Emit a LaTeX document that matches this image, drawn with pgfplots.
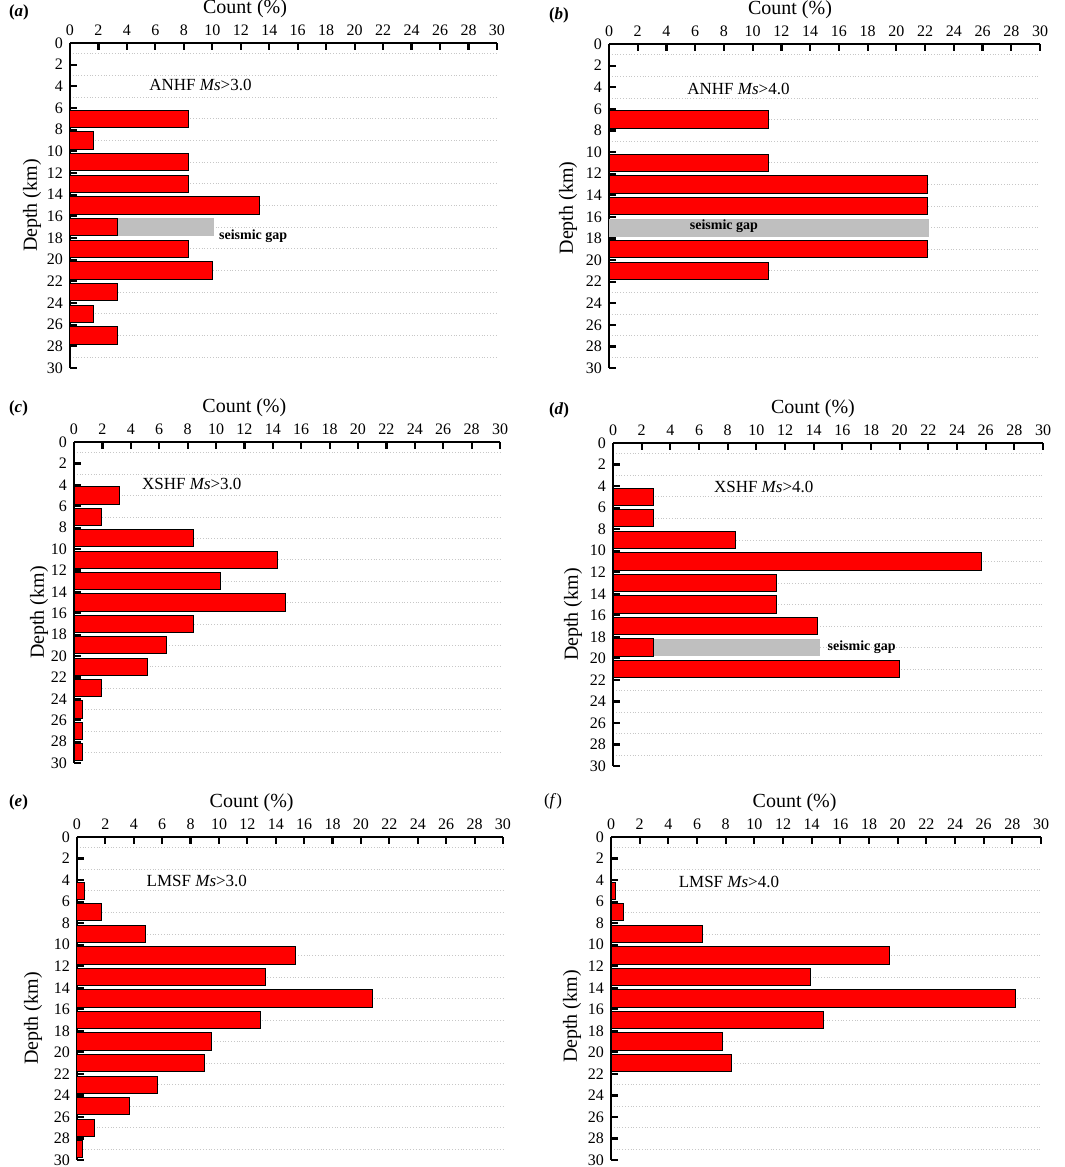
\documentclass[border=0pt]{standalone}
\usepackage{fontspec}
\setmainfont{Liberation Serif}
\usepackage{pgfplots}
\pgfplotsset{compat=1.18}
\pgfplotsset{
 panel/.style={
  scale only axis,
  xmin=0,xmax=30,ymin=0,ymax=30,
  y dir=reverse,
  axis x line=top, axis y line=left,
  axis line style={-, line width=1.2pt},
  xtick={0,2,...,30}, ytick={0,2,...,30},
  minor ytick={1,3,...,29},
  yminorgrids=true,
  minor grid style={densely dotted, black!22, line width=0.4pt},
  tick align=inside,
  major tick length=3.5pt,
  minor tick length=0pt,
  every tick/.style={black, line width=1.1pt},
  tick label style={font=\fontsize{8}{9}\selectfont},
  /pgf/number format/assume math mode=true,
  xlabel={Count (\%)},
  ylabel={Depth (km)},
  label style={font=\fontsize{8.5}{10}\selectfont},
  clip=false,
 },
 xlab/.style={every axis x label/.style={at={(axis description cs:#1,1)}, anchor=center, yshift=17pt}},
 ylab/.style 2 args={every axis y label/.style={at={(axis description cs:0,0.5)}, xshift=-#1, yshift=#2, rotate=90, anchor=center}},
 redbar/.style={xbar, bar width=1.6, bar shift=0pt, fill=red, draw=black, line width=0.5pt},
 gapbar/.style={xbar, bar width=1.65, bar shift=0pt, fill=black!25, draw=none},
}
\newcommand{\ann}[3]{\node[anchor=west, inner sep=0pt, font=\fontsize{8.5}{10}\selectfont] at (axis cs:#1,#2) {#3};}
\newcommand{\gaplabel}[3]{\node[anchor=#3, inner sep=0pt, font=\fontsize{7}{8}\selectfont\bfseries] at (axis cs:#1,#2) {seismic gap};}
\begin{document}
\begin{tikzpicture}
\useasboundingbox (0,0) rectangle (532.5pt,-583.5pt);
% (a)
\begin{axis}[panel, at={(35pt,-21.5pt)}, anchor=north west, width=213.5pt, height=162.5pt, xlab=0.41, ylab={19pt}{0pt}]
\addplot[gapbar] coordinates {(10.15,17)};
\addplot[redbar] coordinates {(8.32,7) (1.66,9) (8.32,11) (8.32,13) (13.33,15) (3.33,17) (8.32,19) (10.0,21) (3.33,23) (1.66,25) (3.33,27)};
\ann{5.55}{3.9}{ANHF \textit{Ms}>3.0}
\gaplabel{10.45}{17.8}{west}
\end{axis}
% (b)
\begin{axis}[panel, at={(304.5pt,-22pt)}, anchor=north west, width=215.5pt, height=162pt, xlab=0.42, ylab={20.5pt}{-1pt}]
\addplot[gapbar] coordinates {(22.25,17)};
\addplot[redbar] coordinates {(11.1,7) (11.1,11) (22.2,13) (22.2,15) (22.2,19) (11.1,21)};
\ann{5.43}{4.17}{ANHF \textit{Ms}>4.0}
\gaplabel{8}{16.9}{center}
\end{axis}
% (c)
\begin{axis}[panel, at={(37pt,-221pt)}, anchor=north west, width=213pt, height=160.5pt, xlab=0.40, ylab={17.5pt}{-5pt}]
\addplot[redbar] coordinates {(3.2,5) (1.95,7) (8.45,9) (14.3,11) (10.35,13) (14.9,15) (8.45,17) (6.5,19) (5.2,21) (1.95,23) (0.63,25) (0.63,27) (0.63,29)};
\ann{4.77}{3.9}{XSHF \textit{Ms}>3.0}
\end{axis}
% (d)
\begin{axis}[panel, at={(306.5pt,-221.5pt)}, anchor=north west, width=215pt, height=161.5pt, xlab=0.465, ylab={20pt}{-5pt}]
\addplot[gapbar] coordinates {(14.44,19)};
\addplot[redbar] coordinates {(2.85,5) (2.85,7) (8.56,9) (25.7,11) (11.4,13) (11.4,15) (14.3,17) (2.85,19) (20.0,21)};
\ann{7.02}{4.1}{XSHF \textit{Ms}>4.0}
\gaplabel{14.95}{19}{west}
\end{axis}
% (e)
\begin{axis}[panel, at={(38.5pt,-418.5pt)}, anchor=north west, width=213pt, height=161.5pt, xlab=0.41, ylab={22pt}{-10pt}]
\addplot[redbar] coordinates {(0.54,5) (1.74,7) (4.8,9) (15.4,11) (13.3,13) (20.8,15) (12.95,17) (9.5,19) (9.0,21) (5.7,23) (3.7,25) (1.2,27) (0.42,29)};
\ann{4.88}{4.05}{LMSF \textit{Ms}>3.0}
\end{axis}
% (f)
\begin{axis}[panel, at={(305.5pt,-418.5pt)}, anchor=north west, width=215pt, height=161.5pt, xlab=0.427, ylab={19.5pt}{-9pt}]
\addplot[redbar] coordinates {(0.28,5) (0.86,7) (6.35,9) (19.4,11) (13.95,13) (28.2,15) (14.8,17) (7.8,19) (8.4,21)};
\ann{4.7}{4.2}{LMSF \textit{Ms}>4.0}
\end{axis}
% panel letters
\node[anchor=west, font=\fontsize{8.5}{10}\selectfont\bfseries] at (1pt,-6pt) {(\textit{a})};
\node[anchor=west, font=\fontsize{8.5}{10}\selectfont\bfseries] at (271pt,-7.5pt) {(\textit{b})};
\node[anchor=west, font=\fontsize{8.5}{10}\selectfont\bfseries] at (1pt,-204pt) {(\textit{c})};
\node[anchor=west, font=\fontsize{8.5}{10}\selectfont\bfseries] at (271pt,-205pt) {(\textit{d})};
\node[anchor=west, font=\fontsize{8.5}{10}\selectfont\bfseries] at (1pt,-401pt) {(\textit{e})};
\node[anchor=west, font=\fontsize{8.5}{10}\selectfont] at (268.5pt,-400.5pt) {(\textit{f})};
\end{tikzpicture}
\end{document}
